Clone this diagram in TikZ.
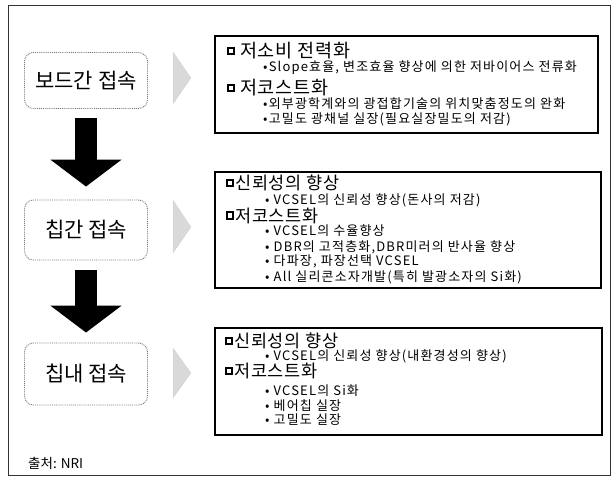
\documentclass[tikz,border=0pt]{standalone}
\usepackage{fontspec}
\setmainfont{Noto Sans CJK KR}
\newfontfamily\itemfont{Noto Sans CJK KR}[LetterSpace=9]
\newfontfamily\headfont{Noto Sans CJK KR}[LetterSpace=4]
\usetikzlibrary{arrows.meta,calc}
\begin{document}
\begin{tikzpicture}[x=1pt,y=-1pt,
 frame/.style={draw=black!80,line width=0.8pt},
 rbox/.style={draw=black,line width=1.5pt,inner sep=0pt},
 lbox/.style={draw=black!55,densely dotted,line width=0.9pt,rounded corners=9pt,minimum width=123pt,inner sep=0pt,font=\fontsize{21}{25}\selectfont},
 sq/.style={draw=black,line width=1.6pt,minimum size=6.5pt,inner sep=0pt},
 head/.style={anchor=west,inner sep=0pt,font=\headfont\fontsize{17.5}{20}\selectfont},
 bighead/.style={head,font=\headfont\fontsize{18.5}{21}\selectfont},
 item/.style={anchor=west,inner sep=0pt,font=\itemfont\fontsize{13}{15}\selectfont},
 bigarrow/.style={line width=22pt,-{Triangle[length=27pt,width=70pt]}},
 tri/.style={fill=gray!30,draw=gray!55,densely dotted},
 foot/.style={anchor=west,inner sep=0pt,font=\fontsize{13.5}{15}\selectfont}
]
\useasboundingbox (0,0) rectangle (614,477);
\draw[frame] (8,5) rectangle (610,475);

% left boxes
\node[lbox,minimum height=56pt] (L1) at (86,80.5) {보드간 접속};
\node[lbox,minimum height=60pt] (L2) at (86,230) {칩간 접속};
\node[lbox,minimum height=62pt] (L3) at (86,374) {칩내 접속};

\draw[bigarrow,shorten <=9pt,shorten >=13pt] (L1.south) -- (L2.north);
\draw[bigarrow,shorten <=10pt,shorten >=10pt] (L2.south) -- (L3.north);

% gray triangles
\fill[tri] (173,52) -- (191,78) -- (173,104) -- cycle;
\fill[tri] (173,200) -- (191,227) -- (173,253) -- cycle;
\fill[tri] (173,348) -- (191,373) -- (173,398) -- cycle;

% right boxes
\node[rbox,minimum width=383pt,minimum height=97pt] (R1) at (406.5,84.5) {};
\node[rbox,minimum width=386pt,minimum height=116pt] (R2) at (408,230) {};
\node[rbox,minimum width=387pt,minimum height=107pt] (R3) at (408.5,381.5) {};

% box 1 text
\node[sq] (s11) at (231,51) {};
\node[bighead] (h11) at (240,51) {저소비 전력화};
\node[item] (i11) at (263,68) {•Slope효율, 변조효율 향상에 의한 저바이어스 전류화};
\node[sq] (s12) at (231,88) {};
\node[bighead] (h12) at (240,88) {저코스트화};
\node[item] (i12) at (263,104) {•외부광학계와의 광접합기술의 위치맞춤정도의 완화};
\node[item] (i13) at (263,119.5) {•고밀도 광채널 실장(필요실장밀도의 저감)};

% box 2 text
\node[sq] (s21) at (230,183) {};
\node[head] (h21) at (235,183) {신뢰성의 향상};
\node[item] (i21) at (265,200) {• VCSEL의 신뢰성 향상(돈사의 저감)};
\node[sq] (s22) at (230,215.5) {};
\node[head] (h22) at (235,215.5) {저코스트화};
\node[item] (i22) at (265,231) {• VCSEL의 수율향상};
\node[item] (i23) at (265,247) {• DBR의 고적층화,DBR미러의 반사율 향상};
\node[item] (i24) at (265,261.5) {• 다파장, 파장선택 VCSEL};
\node[item] (i25) at (265,277) {• All 실리콘소자개발(특히 발광소자의 Si화)};

% box 3 text
\node[sq] (s31) at (229,341) {};
\node[head] (h31) at (234,341) {신뢰성의 향상};
\node[item] (i31) at (265,356) {• VCSEL의 신뢰성 향상(내환경성의 향상)};
\node[sq] (s32) at (229,371) {};
\node[head] (h32) at (234,371) {저코스트화};
\node[item] (i32) at (265,391) {• VCSEL의 Si화};
\node[item] (i33) at (265,406) {• 베어칩 실장};
\node[item] (i34) at (265,420) {• 고밀도 실장};

\node[foot] (src) at (28,463) {출처: NRI};
\end{tikzpicture}
\end{document}
